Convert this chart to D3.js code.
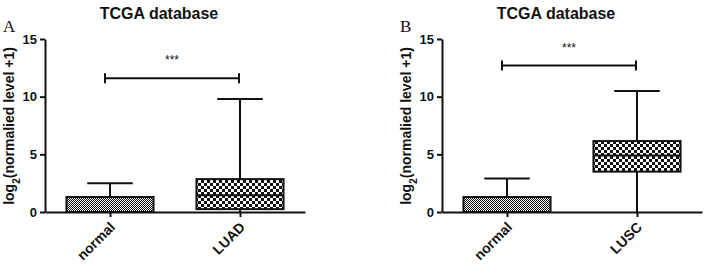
<!DOCTYPE html>
<html>
<head>
<meta charset="utf-8">
<script src="https://cdn.jsdelivr.net/npm/d3@7"></script>
<style>
  body { margin: 0; background: #fff; }
  text { font-family: Arial, "Liberation Sans", sans-serif; fill: #111; }
</style>
</head>
<body>
<div id="chart"></div>
<script>
// panel data (log2 scale)
const panels = ["A", "B"];
const categoriesA = ["normal", "LUAD"];
const categoriesB = ["normal", "LUSC"];
// [min, q1, median, q3, max]
const boxesA = [[0, 0, 0, 1.3, 2.5], [0, 0.25, 1.45, 2.85, 9.8]];
const boxesB = [[0, 0, 0, 1.3, 2.9], [0, 3.5, 4.9, 6.15, 10.5]];
const bracketA = 11.6;
const bracketB = 12.7;
const yTicks = [0, 5, 10, 15];

const W = 707, H = 265;
const svg = d3.select("#chart").append("svg")
    .attr("width", W).attr("height", H);

const defs = svg.append("defs");
// fine checker for normal
const pf = defs.append("pattern").attr("id", "fine")
    .attr("width", 2).attr("height", 2).attr("patternUnits", "userSpaceOnUse");
pf.append("rect").attr("width", 2).attr("height", 2).attr("fill", "#fff");
pf.append("rect").attr("width", 1).attr("height", 1).attr("fill", "#111");
pf.append("rect").attr("x", 1).attr("y", 1).attr("width", 1).attr("height", 1).attr("fill", "#111");
// coarse checker for tumour
const pc = defs.append("pattern").attr("id", "coarse")
    .attr("width", 6).attr("height", 6).attr("patternUnits", "userSpaceOnUse");
pc.append("rect").attr("width", 6).attr("height", 6).attr("fill", "#fff");
pc.append("rect").attr("width", 3).attr("height", 3).attr("fill", "#111");
pc.append("rect").attr("x", 3).attr("y", 3).attr("width", 3).attr("height", 3).attr("fill", "#111");

const y = d3.scaleLinear().domain([0, 15]).range([212, 39]);

function drawPanel(ox, letter, cats, boxes, bracket) {
    const g = svg.append("g").attr("transform", "translate(" + ox + ",0)");
    const x = d3.scalePoint().domain(cats).range([0, 260]).padding(0.5);
    const step = x.step();

    // title + letter
    g.append("text").text("TCGA database")
        .attr("x", 114).attr("y", 19)
        .attr("text-anchor", "middle")
        .style("font-size", "16px").style("font-weight", "bold");
    g.append("text").text(letter)
        .attr("x", -42).attr("y", 32)
        .style("font-family", "'Liberation Serif', 'DejaVu Serif', serif")
        .style("font-size", "17px");

    // y axis
    const ya = g.append("g")
        .call(d3.axisLeft(y).tickValues(yTicks).tickSize(5).tickPadding(3).tickSizeOuter(0));
    ya.select(".domain").attr("stroke-width", 2).attr("stroke", "#111");
    ya.selectAll(".tick line").attr("stroke-width", 2).attr("stroke", "#111");
    ya.selectAll(".tick text").style("font-size", "13px").style("font-weight", "bold")
        .style("font-family", "Arial, 'Liberation Sans', sans-serif").attr("fill", "#111");

    // y label
    const yl = g.append("text")
        .attr("transform", "translate(-31,126) rotate(-90)")
        .attr("text-anchor", "middle")
        .style("font-size", "14px").style("font-weight", "bold");
    yl.append("tspan").text("log");
    yl.append("tspan").text("2").attr("baseline-shift", "sub").style("font-size", "10px");
    yl.append("tspan").text("(normalied level +1)");

    // x axis
    const xa = g.append("g").attr("transform", "translate(0," + y(0) + ")")
        .call(d3.axisBottom(x).tickSize(5).tickSizeOuter(0).tickFormat(""));
    xa.select(".domain").attr("stroke-width", 2).attr("stroke", "#111");
    xa.selectAll(".tick line").attr("stroke-width", 2).attr("stroke", "#111");

    g.selectAll("text.xl").data(cats).join("text")
        .attr("class", "xl")
        .attr("transform", d => "translate(" + (x(d) + 6) + "," + (y(0) + 16) + ") rotate(-45)")
        .attr("text-anchor", "end")
        .style("font-size", "14px").style("font-weight", "bold")
        .text(d => d);

    // boxes
    const bw = step * 0.67, cw = step * 0.35;
    cats.forEach((c, i) => {
        const [mn, q1, md, q3, mx] = boxes[i];
        const cx = x(c);
        const bg = g.append("g").attr("stroke", "#111").attr("stroke-width", 2);
        bg.append("line").attr("x1", cx).attr("x2", cx).attr("y1", y(q3)).attr("y2", y(mx));
        bg.append("line").attr("x1", cx).attr("x2", cx).attr("y1", y(mn)).attr("y2", y(q1));
        bg.append("line").attr("x1", cx - cw / 2).attr("x2", cx + cw / 2).attr("y1", y(mx)).attr("y2", y(mx));
        bg.append("rect")
            .attr("x", cx - bw / 2).attr("width", bw)
            .attr("y", y(q3)).attr("height", y(q1) - y(q3))
            .attr("fill", i === 0 ? "url(#fine)" : "url(#coarse)");
        if (md > q1) {
            bg.append("line").attr("x1", cx - bw / 2).attr("x2", cx + bw / 2)
                .attr("y1", y(md)).attr("y2", y(md));
        }
    });

    // significance bracket
    const x0 = x(cats[0]) - 5, x1 = x(cats[1]) - 1, by = y(bracket);
    const sb = g.append("g").attr("stroke", "#111").attr("stroke-width", 2);
    sb.append("line").attr("x1", x0).attr("x2", x1).attr("y1", by).attr("y2", by);
    sb.append("line").attr("x1", x0).attr("x2", x0).attr("y1", by - 5).attr("y2", by + 5);
    sb.append("line").attr("x1", x1).attr("x2", x1).attr("y1", by - 5).attr("y2", by + 5);
    g.append("text").text("***")
        .attr("x", (x0 + x1) / 2).attr("y", by - 14)
        .attr("text-anchor", "middle")
        .style("font-size", "12px").attr("fill", "#333");
}

drawPanel(45, panels[0], categoriesA, boxesA, bracketA);
drawPanel(442, panels[1], categoriesB, boxesB, bracketB);
</script>
</body>
</html>
